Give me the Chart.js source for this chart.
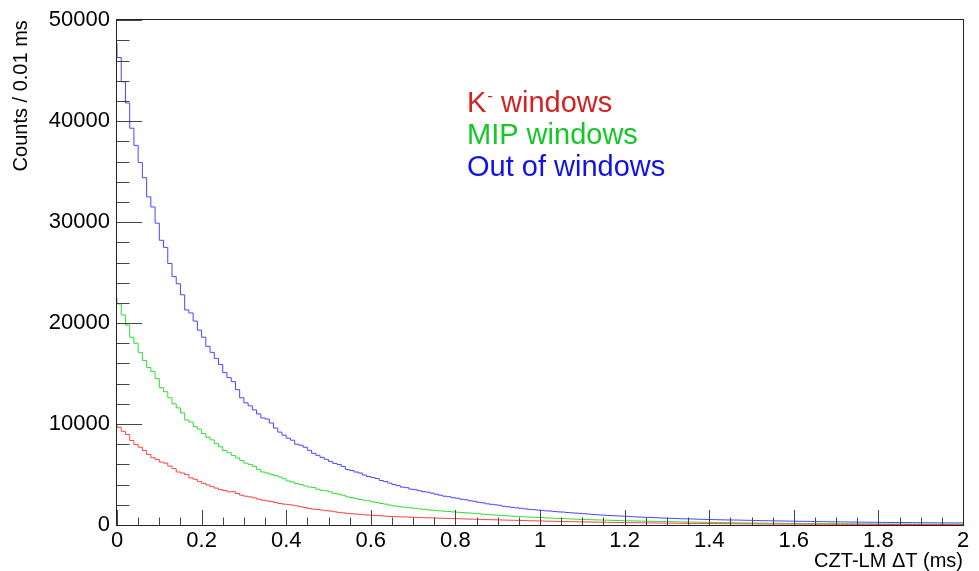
<!DOCTYPE html>
<html>
<head>
<meta charset="utf-8">
<script src="https://cdn.jsdelivr.net/npm/chart.js@4.4.0/dist/chart.umd.min.js"></script>
<style>
  html, body { margin: 0; padding: 0; background: #fff; }
  canvas { display: block; }
</style>
</head>
<body>
<canvas id="c" width="979" height="571"></canvas>
<script>
// Histograms, 200 bins of 0.01 ms from 0 to 2 ms (counts)
const binWidth = 0.01;

const kWindows = [
  9940, 9680, 9280, 8960, 8370, 7970, 7710, 7380, 6990, 6660,
  6500, 6230, 6130, 5840, 5580, 5250, 5150, 4990, 4660, 4530,
  4300, 4120, 3960, 3800, 3650, 3510, 3420, 3280, 3300, 3120,
  2950, 2850, 2790, 2690, 2560, 2460, 2390, 2330, 2230, 2130,
  2070, 2040, 1970, 1900, 1800, 1740, 1640, 1570, 1540, 1480,
  1410, 1380, 1310, 1250, 1210, 1150, 1120, 1080, 1050, 1010,
  980, 960, 930, 910, 880, 860, 840, 820, 800, 790,
  770, 755, 745, 725, 715, 700, 690, 670, 660, 650,
  640, 625, 610, 600, 585, 575, 560, 550, 535, 525,
  515, 505, 490, 480, 470, 460, 450, 440, 425, 415,
  405, 395, 385, 375, 365, 355, 350, 340, 330, 322,
  315, 305, 298, 290, 283, 275, 270, 262, 255, 250,
  243, 237, 230, 225, 220, 214, 208, 204, 198, 193,
  188, 184, 180, 175, 170, 166, 162, 158, 154, 150,
  147, 143, 140, 136, 133, 130, 126, 123, 120, 117,
  114, 112, 109, 106, 104, 101, 99, 96, 94, 92,
  90, 88, 86, 84, 82, 80, 78, 76, 75, 73,
  71, 70, 68, 67, 65, 64, 62, 61, 60, 58,
  57, 56, 55, 54, 53, 52, 51, 50, 49, 48,
  47, 46, 45, 44, 44, 43, 42, 41, 41, 40
];

const mipWindows = [
  22500, 21900, 20800, 19800, 18600, 18000, 17100, 16300, 15600, 15200,
  14500, 13600, 13200, 12600, 12000, 11600, 11100, 10400, 10200, 9750,
  9500, 9050, 8700, 8430, 8050, 7750, 7380, 7160, 6890, 6650,
  6400, 6130, 6000, 5810, 5510, 5250, 5150, 5020, 4890, 4760,
  4590, 4360, 4260, 4100, 4010, 3870, 3770, 3710, 3540, 3440,
  3380, 3280, 3120, 3050, 2950, 2790, 2720, 2620, 2530, 2460,
  2390, 2300, 2230, 2130, 2070, 1970, 1900, 1850, 1780, 1760,
  1700, 1650, 1600, 1560, 1510, 1470, 1430, 1400, 1360, 1330,
  1300, 1270, 1240, 1210, 1180, 1150, 1120, 1080, 1050, 1010,
  980, 960, 930, 900, 880, 860, 830, 810, 790, 770,
  750, 730, 710, 690, 670, 650, 640, 620, 600, 580,
  560, 550, 535, 520, 505, 495, 480, 470, 455, 445,
  430, 420, 410, 400, 390, 380, 372, 365, 355, 345,
  335, 328, 320, 312, 305, 298, 290, 282, 275, 268,
  262, 255, 248, 242, 236, 230, 224, 218, 212, 206,
  200, 196, 190, 186, 180, 176, 172, 168, 164, 160,
  156, 152, 149, 146, 143, 140, 137, 134, 131, 128,
  126, 123, 121, 118, 116, 114, 112, 110, 108, 106,
  104, 102, 100, 99, 97, 96, 94, 93, 91, 90,
  89, 88, 87, 86, 85, 84, 83, 82, 81, 80
];

const outWindows = [
  47700, 46300, 43900, 41800, 39300, 37600, 35900, 34400, 32500, 31500,
  29900, 28200, 27500, 25900, 24600, 23900, 22800, 21300, 21000, 20200,
  19300, 18600, 17700, 17100, 16500, 15900, 15100, 14600, 14200, 13400,
  12600, 12100, 11800, 11400, 11000, 10600, 10500, 10100, 9600, 9200,
  8900, 8600, 8400, 8000, 7900, 7700, 7400, 7100, 6900, 6700,
  6500, 6300, 6100, 6000, 5800, 5500, 5400, 5250, 5150, 4950,
  4800, 4700, 4600, 4400, 4300, 4150, 4000, 3900, 3750, 3700,
  3550, 3500, 3400, 3300, 3250, 3150, 3050, 2950, 2850, 2800,
  2700, 2650, 2550, 2500, 2400, 2350, 2250, 2200, 2100, 2050,
  2000, 1950, 1850, 1800, 1750, 1700, 1650, 1600, 1550, 1520,
  1480, 1450, 1400, 1380, 1330, 1300, 1280, 1240, 1200, 1180,
  1150, 1120, 1080, 1050, 1020, 990, 960, 940, 920, 900,
  880, 860, 830, 810, 790, 770, 750, 740, 720, 700,
  680, 670, 650, 640, 620, 610, 600, 590, 570, 560,
  550, 540, 530, 520, 510, 500, 495, 490, 480, 470,
  460, 450, 440, 430, 425, 420, 410, 400, 395, 390,
  380, 375, 365, 360, 355, 345, 340, 335, 330, 320,
  315, 310, 305, 300, 295, 290, 285, 280, 275, 270,
  265, 262, 258, 255, 250, 246, 243, 240, 236, 233,
  230, 227, 224, 221, 218, 215, 212, 210, 207, 205
];

const seriesNames = ['K- windows', 'MIP windows', 'Out of windows'];
const lineColors = ['#ff4040', '#30dd30', '#4646ff'];
const textColors = ['#d42222', '#14c828', '#1212e6'];
const xTickVals = [0, 0.2, 0.4, 0.6, 0.8, 1, 1.2, 1.4, 1.6, 1.8, 2];
const yTickVals = [0, 10000, 20000, 30000, 40000, 50000];

const FONT = '"Liberation Sans", Arial, Helvetica, sans-serif';

// bin i covers [i*w, (i+1)*w); extra point closes the last bin
function toSteps(counts) {
  const pts = counts.map((v, i) => ({ x: i * binWidth, y: v }));
  pts.push({ x: counts.length * binWidth, y: counts[counts.length - 1] });
  return pts;
}

// ROOT-style frame: box, inward ticks, text legend
const rootFrame = {
  id: 'rootFrame',
  afterDatasetsDraw(chart) {
    const { ctx, chartArea: a, scales: { x, y } } = chart;
    ctx.save();
    ctx.strokeStyle = '#444';
    ctx.lineWidth = 1;
    ctx.beginPath();
    for (let k = 0; k <= 40; k++) {
      const px = Math.round(x.getPixelForValue(k * 0.05)) + 0.5;
      const len = k % 4 === 0 ? 15 : 7.5;
      ctx.moveTo(px, a.bottom);
      ctx.lineTo(px, a.bottom - len);
    }
    for (let k = 0; k <= 25; k++) {
      const py = Math.round(y.getPixelForValue(k * 2000)) + 0.5;
      const len = k % 5 === 0 ? 25 : 12.5;
      ctx.moveTo(a.left, py);
      ctx.lineTo(a.left + len, py);
    }
    ctx.stroke();
    ctx.strokeStyle = '#222';
    ctx.strokeRect(Math.round(a.left) - 0.5, Math.round(a.top) - 0.5,
      Math.round(a.right - a.left) + 1, Math.round(a.bottom - a.top) + 1);
    ctx.restore();
  },
  afterDraw(chart) {
    const { ctx } = chart;
    const x0 = 467;
    const baselines = [112, 144, 176];
    ctx.save();
    ctx.textBaseline = 'alphabetic';
    ctx.textAlign = 'left';
    chart.data.datasets.forEach((ds, i) => {
      ctx.fillStyle = textColors[i];
      ctx.font = '29px ' + FONT;
      if (i === 0) {
        ctx.fillText('K', x0, baselines[i]);
        let xx = x0 + ctx.measureText('K').width + 1;
        ctx.font = '17px ' + FONT;
        ctx.fillText('-', xx, baselines[i] - 11);
        xx += ctx.measureText('-').width;
        ctx.font = '29px ' + FONT;
        ctx.fillText(' windows', xx, baselines[i]);
      } else {
        ctx.fillText(ds.label, x0, baselines[i]);
      }
    });
    ctx.restore();
  }
};

const series = [kWindows, mipWindows, outWindows];

new Chart(document.getElementById('c'), {
  type: 'line',
  data: {
    datasets: series.map((s, i) => ({
      label: seriesNames[i],
      data: toSteps(s),
      stepped: 'after',
      borderColor: lineColors[i],
      borderWidth: 1,
      pointRadius: 0,
      fill: false,
      order: i
    }))
  },
  options: {
    responsive: false,
    animation: false,
    layout: { padding: { left: 0, right: 16, top: 17, bottom: 0 } },
    plugins: { legend: { display: false }, tooltip: { enabled: false } },
    scales: {
      x: {
        type: 'linear',
        min: 0,
        max: 2,
        afterFit: s => { s.height = 46; },
        afterBuildTicks: s => { s.ticks = xTickVals.map(v => ({ value: v })); },
        grid: { display: false, drawTicks: false },
        border: { display: false },
        ticks: {
          autoSkip: false,
          maxRotation: 0,
          padding: 3,
          color: '#000',
          font: { family: FONT, size: 22 },
          callback: v => String(+v.toFixed(1))
        },
        title: {
          display: true,
          text: 'CZT-LM ΔT (ms)',
          align: 'end',
          color: '#000',
          padding: 0,
          font: { family: FONT, size: 20, lineHeight: 1 }
        }
      },
      y: {
        min: 0,
        max: 50000,
        afterFit: s => { s.width = 117; },
        afterBuildTicks: s => { s.ticks = yTickVals.map(v => ({ value: v })); },
        grid: { display: false, drawTicks: false },
        border: { display: false },
        ticks: {
          padding: 7,
          color: '#000',
          font: { family: FONT, size: 22 },
          callback: v => String(v)
        },
        title: {
          display: true,
          text: 'Counts / 0.01 ms',
          align: 'end',
          color: '#000',
          padding: { top: 11, bottom: 0 },
          font: { family: FONT, size: 20, lineHeight: 1 }
        }
      }
    }
  },
  plugins: [rootFrame]
});
</script>
</body>
</html>
